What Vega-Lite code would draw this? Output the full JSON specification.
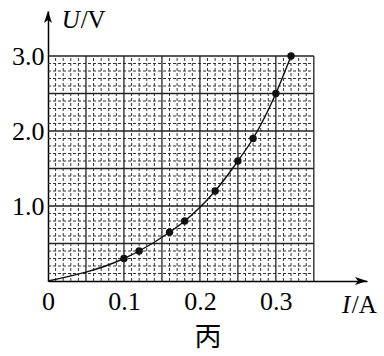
{
  "$schema": "https://vega.github.io/schema/vega-lite/v6.json",
  "width": 319,
  "height": 270,
  "autosize": {"type": "none"},
  "padding": {"left": 48, "top": 11, "right": 17, "bottom": 75},
  "background": "white",
  "config": {"view": {"stroke": null}, "font": "Liberation Serif"},
  "datasets": {
    "grid": [
      {"x": 0.01, "y": 0, "x2": 0.01, "y2": 3, "kind": "minor"},
      {"x": 0.02, "y": 0, "x2": 0.02, "y2": 3, "kind": "minor"},
      {"x": 0.03, "y": 0, "x2": 0.03, "y2": 3, "kind": "minor"},
      {"x": 0.04, "y": 0, "x2": 0.04, "y2": 3, "kind": "minor"},
      {"x": 0.06, "y": 0, "x2": 0.06, "y2": 3, "kind": "minor"},
      {"x": 0.07, "y": 0, "x2": 0.07, "y2": 3, "kind": "minor"},
      {"x": 0.08, "y": 0, "x2": 0.08, "y2": 3, "kind": "minor"},
      {"x": 0.09, "y": 0, "x2": 0.09, "y2": 3, "kind": "minor"},
      {"x": 0.11, "y": 0, "x2": 0.11, "y2": 3, "kind": "minor"},
      {"x": 0.12, "y": 0, "x2": 0.12, "y2": 3, "kind": "minor"},
      {"x": 0.13, "y": 0, "x2": 0.13, "y2": 3, "kind": "minor"},
      {"x": 0.14, "y": 0, "x2": 0.14, "y2": 3, "kind": "minor"},
      {"x": 0.16, "y": 0, "x2": 0.16, "y2": 3, "kind": "minor"},
      {"x": 0.17, "y": 0, "x2": 0.17, "y2": 3, "kind": "minor"},
      {"x": 0.18, "y": 0, "x2": 0.18, "y2": 3, "kind": "minor"},
      {"x": 0.19, "y": 0, "x2": 0.19, "y2": 3, "kind": "minor"},
      {"x": 0.21, "y": 0, "x2": 0.21, "y2": 3, "kind": "minor"},
      {"x": 0.22, "y": 0, "x2": 0.22, "y2": 3, "kind": "minor"},
      {"x": 0.23, "y": 0, "x2": 0.23, "y2": 3, "kind": "minor"},
      {"x": 0.24, "y": 0, "x2": 0.24, "y2": 3, "kind": "minor"},
      {"x": 0.26, "y": 0, "x2": 0.26, "y2": 3, "kind": "minor"},
      {"x": 0.27, "y": 0, "x2": 0.27, "y2": 3, "kind": "minor"},
      {"x": 0.28, "y": 0, "x2": 0.28, "y2": 3, "kind": "minor"},
      {"x": 0.29, "y": 0, "x2": 0.29, "y2": 3, "kind": "minor"},
      {"x": 0.31, "y": 0, "x2": 0.31, "y2": 3, "kind": "minor"},
      {"x": 0.32, "y": 0, "x2": 0.32, "y2": 3, "kind": "minor"},
      {"x": 0.33, "y": 0, "x2": 0.33, "y2": 3, "kind": "minor"},
      {"x": 0.34, "y": 0, "x2": 0.34, "y2": 3, "kind": "minor"},
      {"x": 0, "y": 0.1, "x2": 0.35, "y2": 0.1, "kind": "minor"},
      {"x": 0, "y": 0.2, "x2": 0.35, "y2": 0.2, "kind": "minor"},
      {"x": 0, "y": 0.3, "x2": 0.35, "y2": 0.3, "kind": "minor"},
      {"x": 0, "y": 0.4, "x2": 0.35, "y2": 0.4, "kind": "minor"},
      {"x": 0, "y": 0.6, "x2": 0.35, "y2": 0.6, "kind": "minor"},
      {"x": 0, "y": 0.7, "x2": 0.35, "y2": 0.7, "kind": "minor"},
      {"x": 0, "y": 0.8, "x2": 0.35, "y2": 0.8, "kind": "minor"},
      {"x": 0, "y": 0.9, "x2": 0.35, "y2": 0.9, "kind": "minor"},
      {"x": 0, "y": 1.1, "x2": 0.35, "y2": 1.1, "kind": "minor"},
      {"x": 0, "y": 1.2, "x2": 0.35, "y2": 1.2, "kind": "minor"},
      {"x": 0, "y": 1.3, "x2": 0.35, "y2": 1.3, "kind": "minor"},
      {"x": 0, "y": 1.4, "x2": 0.35, "y2": 1.4, "kind": "minor"},
      {"x": 0, "y": 1.6, "x2": 0.35, "y2": 1.6, "kind": "minor"},
      {"x": 0, "y": 1.7, "x2": 0.35, "y2": 1.7, "kind": "minor"},
      {"x": 0, "y": 1.8, "x2": 0.35, "y2": 1.8, "kind": "minor"},
      {"x": 0, "y": 1.9, "x2": 0.35, "y2": 1.9, "kind": "minor"},
      {"x": 0, "y": 2.1, "x2": 0.35, "y2": 2.1, "kind": "minor"},
      {"x": 0, "y": 2.2, "x2": 0.35, "y2": 2.2, "kind": "minor"},
      {"x": 0, "y": 2.3, "x2": 0.35, "y2": 2.3, "kind": "minor"},
      {"x": 0, "y": 2.4, "x2": 0.35, "y2": 2.4, "kind": "minor"},
      {"x": 0, "y": 2.6, "x2": 0.35, "y2": 2.6, "kind": "minor"},
      {"x": 0, "y": 2.7, "x2": 0.35, "y2": 2.7, "kind": "minor"},
      {"x": 0, "y": 2.8, "x2": 0.35, "y2": 2.8, "kind": "minor"},
      {"x": 0, "y": 2.9, "x2": 0.35, "y2": 2.9, "kind": "minor"},
      {"x": 0.05, "y": 0, "x2": 0.05, "y2": 3, "kind": "major"},
      {"x": 0.1, "y": 0, "x2": 0.1, "y2": 3, "kind": "major"},
      {"x": 0.15, "y": 0, "x2": 0.15, "y2": 3, "kind": "major"},
      {"x": 0.2, "y": 0, "x2": 0.2, "y2": 3, "kind": "major"},
      {"x": 0.25, "y": 0, "x2": 0.25, "y2": 3, "kind": "major"},
      {"x": 0.3, "y": 0, "x2": 0.3, "y2": 3, "kind": "major"},
      {"x": 0.35, "y": 0, "x2": 0.35, "y2": 3, "kind": "major"},
      {"x": 0, "y": 0.5, "x2": 0.35, "y2": 0.5, "kind": "major"},
      {"x": 0, "y": 1.0, "x2": 0.35, "y2": 1.0, "kind": "major"},
      {"x": 0, "y": 1.5, "x2": 0.35, "y2": 1.5, "kind": "major"},
      {"x": 0, "y": 2.0, "x2": 0.35, "y2": 2.0, "kind": "major"},
      {"x": 0, "y": 2.5, "x2": 0.35, "y2": 2.5, "kind": "major"},
      {"x": 0, "y": 3.0, "x2": 0.35, "y2": 3.0, "kind": "major"}
    ],
    "measure": [
      {"x": 0, "y": 0, "dot": false},
      {"x": 0.10, "y": 0.30, "dot": true},
      {"x": 0.12, "y": 0.40, "dot": true},
      {"x": 0.16, "y": 0.65, "dot": true},
      {"x": 0.18, "y": 0.80, "dot": true},
      {"x": 0.22, "y": 1.20, "dot": true},
      {"x": 0.25, "y": 1.60, "dot": true},
      {"x": 0.27, "y": 1.90, "dot": true},
      {"x": 0.30, "y": 2.50, "dot": true},
      {"x": 0.32, "y": 3.00, "dot": true}
    ]
  },
  "encoding": {
    "x": {
      "field": "x", "type": "quantitative",
      "scale": {"domain": [0, 0.42], "nice": false, "zero": false},
      "axis": {
        "values": [0, 0.1, 0.2, 0.3],
        "labelExpr": "datum.value == 0 ? '0' : format(datum.value, '.1f')",
        "grid": false, "ticks": false,
        "domainColor": "black", "domainWidth": 1.5,
        "labelFont": "Liberation Serif", "labelFontSize": 26, "labelColor": "black",
        "labelPadding": 7, "labelFlush": false, "labelOverlap": false,
        "title": "丙", "titleFont": "Noto Sans CJK SC", "titleFontSize": 27,
        "titleFontWeight": "normal", "titleColor": "black", "titlePadding": 10
      }
    },
    "y": {
      "field": "y", "type": "quantitative",
      "scale": {"domain": [0, 3.6], "nice": false, "zero": false},
      "axis": {
        "values": [1, 2, 3], "format": ".1f",
        "grid": false, "ticks": false,
        "domainColor": "black", "domainWidth": 1.5,
        "labelFont": "Liberation Serif", "labelFontSize": 26, "labelColor": "black",
        "labelPadding": 4, "title": null
      }
    }
  },
  "layer": [
    {
      "data": {"name": "grid"},
      "transform": [{"filter": "datum.kind == 'minor'"}],
      "mark": {"type": "rule", "color": "#333", "strokeWidth": 1, "strokeDash": [3, 2]},
      "encoding": {"x2": {"field": "x2"}, "y2": {"field": "y2"}}
    },
    {
      "data": {"name": "grid"},
      "transform": [{"filter": "datum.kind == 'major'"}],
      "mark": {"type": "rule", "color": "#222", "strokeWidth": 1.3},
      "encoding": {"x2": {"field": "x2"}, "y2": {"field": "y2"}}
    },
    {
      "data": {"name": "measure"},
      "mark": {"type": "line", "interpolate": "monotone", "color": "#111", "strokeWidth": 1.4},
      "encoding": {}
    },
    {
      "data": {"name": "measure"},
      "transform": [{"filter": "datum.dot"}],
      "mark": {"type": "point", "filled": true, "color": "#111", "size": 55, "opacity": 1},
      "encoding": {}
    },
    {
      "data": {"values": [{"x": 0.42, "y": 0}]},
      "mark": {"type": "point", "shape": "M0,0L-2.4,-0.8L-1.8,0L-2.4,0.8Z", "filled": true, "color": "black", "size": 100, "opacity": 1},
      "encoding": {}
    },
    {
      "data": {"values": [{"x": 0, "y": 3.6}]},
      "mark": {"type": "point", "shape": "M0,0L-0.8,2.4L0,1.8L0.8,2.4Z", "filled": true, "color": "black", "size": 100, "opacity": 1},
      "encoding": {}
    },
    {
      "data": {"values": [{"x": 0.018, "y": 3.373, "t": "U"}, {"x": 0.387, "y": -0.427, "t": "I"}]},
      "mark": {"type": "text", "font": "Liberation Serif", "fontStyle": "italic", "fontSize": 25, "align": "left", "baseline": "alphabetic", "color": "black"},
      "encoding": {"text": {"field": "t"}}
    },
    {
      "data": {"values": [{"x": 0.043, "y": 3.373, "t": "/V"}, {"x": 0.4, "y": -0.427, "t": "/A"}]},
      "mark": {"type": "text", "font": "Liberation Serif", "fontSize": 25, "align": "left", "baseline": "alphabetic", "color": "black"},
      "encoding": {"text": {"field": "t"}}
    }
  ]
}
